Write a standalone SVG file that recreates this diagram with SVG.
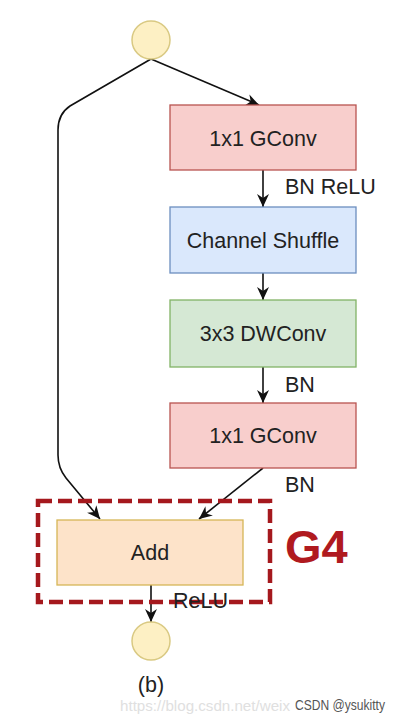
<svg xmlns="http://www.w3.org/2000/svg" width="400" height="722" viewBox="0 0 400 722">
<style>
.lbl{font-family:"Liberation Sans",Arial,sans-serif;font-size:21.5px;fill:#222}
.ctr{text-anchor:middle}
.conn{fill:none;stroke:#111;stroke-width:1.6}
.term{fill:#fdf0c4;stroke:#d9c982;stroke-width:1.5}
</style>
<defs>
<marker id="arr" markerUnits="userSpaceOnUse" markerWidth="14" markerHeight="14" refX="13" refY="7" orient="auto">
<path d="M0,1 L13,7 L0,13 L4,7 z" fill="#111"/>
</marker>
</defs>
<rect width="400" height="722" fill="#ffffff"/>
<g id="connectors">
<path class="conn" d="M151,59 L259,105" marker-end="url(#arr)"/>
<path class="conn" d="M151,59 L70,106 Q58,114 58,130 L58,455 Q58,468 66,478 L100,519" marker-end="url(#arr)"/>
<path class="conn" d="M263,170 L263,207" marker-end="url(#arr)"/>
<path class="conn" d="M263,273 L263,300" marker-end="url(#arr)"/>
<path class="conn" d="M263,367 L263,403" marker-end="url(#arr)"/>
<path class="conn" d="M263,468 L199,519" marker-end="url(#arr)"/>
<path class="conn" d="M151,585 L151,622" marker-end="url(#arr)"/>
<text class="lbl" x="285" y="194">BN ReLU</text>
<text class="lbl" x="285" y="392">BN</text>
<text class="lbl" x="285" y="492">BN</text>
</g>
<g id="input">
<circle class="term" cx="151" cy="40" r="19"/>
</g>
<g id="gconv1">
<rect x="170" y="105" width="186" height="65" fill="#f8cecc" stroke="#b85450" stroke-width="1.3"/>
<text class="lbl ctr" x="263" y="146">1x1 GConv</text>
</g>
<g id="shuffle">
<rect x="170" y="207" width="186" height="66" fill="#dae8fc" stroke="#6c8ebf" stroke-width="1.3"/>
<text class="lbl ctr" x="263" y="248">Channel Shuffle</text>
</g>
<g id="dwconv">
<rect x="170" y="300" width="186" height="67" fill="#d5e8d4" stroke="#82b366" stroke-width="1.3"/>
<text class="lbl ctr" x="263" y="341">3x3 DWConv</text>
</g>
<g id="gconv2">
<rect x="170" y="403" width="186" height="65" fill="#f8cecc" stroke="#b85450" stroke-width="1.3"/>
<text class="lbl ctr" x="263" y="443">1x1 GConv</text>
</g>
<g id="add">
<rect x="57" y="520" width="186" height="65" fill="#fde3c9" stroke="#d6b656" stroke-width="1.3"/>
<text class="lbl ctr" x="150" y="560">Add</text>
</g>
<g id="g4">
<rect x="38" y="501" width="232" height="101" fill="none" stroke="#a5181d" stroke-width="4.5" stroke-dasharray="14,6"/>
<text x="285" y="563" font-family="'Liberation Sans',Arial,sans-serif" font-size="47" font-weight="bold" fill="#b01a1f">G4</text>
</g>
<text class="lbl" x="173" y="608">ReLU</text>
<g id="output">
<circle class="term" cx="151" cy="641" r="19"/>
</g>
<text class="lbl ctr" x="151" y="692" font-size="19">(b)</text>
<text x="120" y="711" font-family="'Liberation Sans',Arial,sans-serif" font-size="14.5" fill="#e0e0e0" textLength="170" lengthAdjust="spacingAndGlyphs">https://blog.csdn.net/weix</text>
<text x="295" y="710" font-family="'Liberation Sans',Arial,sans-serif" font-size="14" fill="#555" textLength="90" lengthAdjust="spacingAndGlyphs">CSDN @ysukitty</text>
</svg>
